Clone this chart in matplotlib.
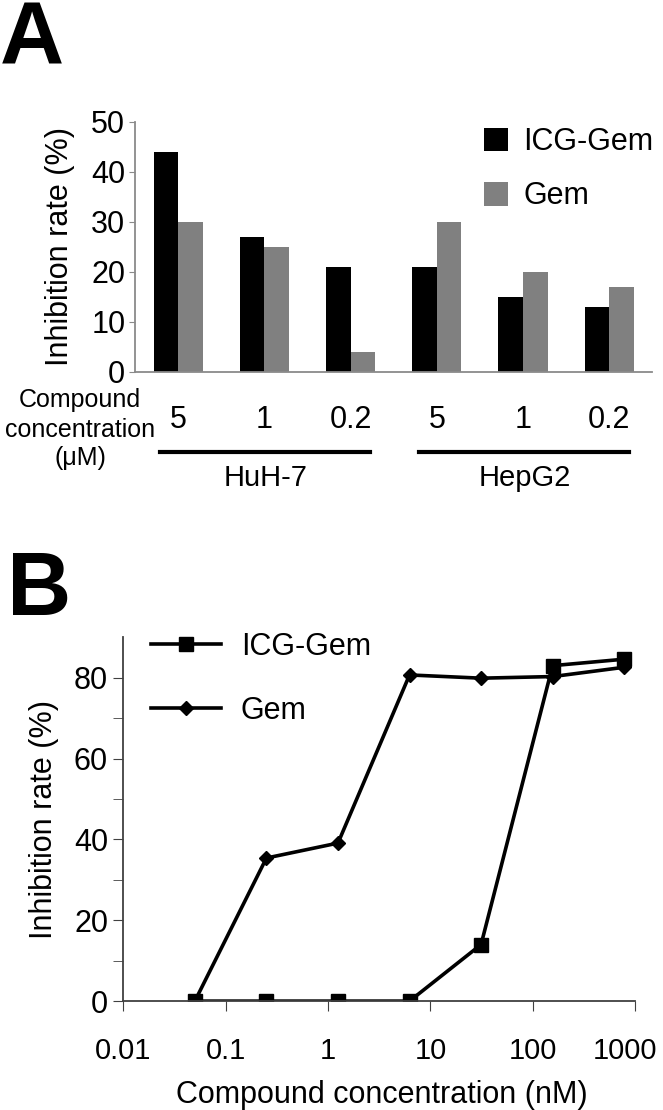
import matplotlib
matplotlib.use('Agg')
import matplotlib.pyplot as plt
import matplotlib.transforms as mtransforms

plt.rcParams['font.family'] = ['Liberation Sans', 'DejaVu Sans']

# panel A data
conc_labels = ['5', '1', '0.2', '5', '1', '0.2']
cell_lines = ['HuH-7', 'HepG2']
icg_gem_a = [44, 27, 21, 21, 15, 13]
gem_a = [30, 25, 4, 30, 20, 17]

# panel B data
conc_nM = [0.05, 0.25, 1.25, 6.25, 31.25, 156.25, 781.25]
icg_gem_b = [0, 0, 0, 0, 14.0, 83.0, 84.6]
gem_b = [0, 35.4, 39.1, 80.7, 79.9, 80.3, 82.6]

fig = plt.figure(figsize=(6.63, 11.1), dpi=100)

# ---------- A ----------
ax = fig.add_axes([0.2036, 0.6649, 0.7804, 0.2252])
x = list(range(len(conc_labels)))
w = 0.285
ax.bar([i - w/2 for i in x], icg_gem_a, w, color='black', label='ICG-Gem')
ax.bar([i + w/2 for i in x], gem_a, w, color='#808080', label='Gem')
ax.set_xlim(-0.5, 5.5)
ax.set_ylim(0, 50)
ax.set_yticks([0, 10, 20, 30, 40, 50])
ax.set_xticks(x)
ax.set_xticklabels(conc_labels)
for s in ['top', 'right']:
    ax.spines[s].set_visible(False)
for s in ['left', 'bottom']:
    ax.spines[s].set_color('#8a8a8a')
    ax.spines[s].set_linewidth(1.3)
ax.tick_params(axis='y', length=4, color='#8a8a8a', labelsize=22, pad=3)
ax.tick_params(axis='x', length=0, labelsize=22, pad=24)
ax.set_ylabel('Inhibition rate (%)', fontsize=22)
ax.yaxis.set_label_coords(-0.116, 0.5)
ax.legend(loc='upper right', bbox_to_anchor=(1.055, 1.09), frameon=False, fontsize=22,
          handlelength=0.8, handleheight=0.8, handletextpad=0.5, labelspacing=0.8)

trans = mtransforms.blended_transform_factory(ax.transData, ax.transAxes)
groups = [(0, 2), (3, 5)]
for (g0, g1), name in zip(groups, cell_lines):
    ax.plot([g0 - 0.21, g1 + 0.23], [-0.32, -0.32], color='black', lw=3,
            transform=trans, clip_on=False)
    ax.text((g0 + g1) / 2 + 0.02, -0.425, name, transform=trans, ha='center',
            va='center', fontsize=21)
fig.text(80/663, 1 - 400/1110, 'Compound', ha='center', va='center', fontsize=18)
fig.text(80/663, 1 - 430/1110, 'concentration', ha='center', va='center', fontsize=18)
fig.text(80/663, 1 - 458/1110, '(\u03bcM)', ha='center', va='center', fontsize=18)

fig.text(0.0, 1 - 65/1110, 'A', fontsize=64, fontweight='bold', ha='left', va='baseline')

# ---------- B ----------
bx = fig.add_axes([0.186, 0.0981, 0.772, 0.3277])
bx.plot(conc_nM, icg_gem_b, color='black', lw=2.6, marker='s', ms=10.5, label='ICG-Gem')
bx.plot(conc_nM, gem_b, color='black', lw=2.6, marker='D', ms=7.5, label='Gem')
bx.set_xscale('log')
bx.set_xlim(0.01, 1000)
bx.set_ylim(0, 90)
bx.set_xticks([0.01, 0.1, 1, 10, 100, 1000])
bx.set_xticklabels(['0.01', '0.1', '1', '10', '100', '1000'])
bx.xaxis.set_minor_locator(matplotlib.ticker.NullLocator())
bx.set_yticks([0, 20, 40, 60, 80])
bx.set_yticks([10, 30, 50, 70], minor=True)
for s in ['top', 'right']:
    bx.spines[s].set_visible(False)
for s in ['left', 'bottom']:
    bx.spines[s].set_color('#404040')
    bx.spines[s].set_linewidth(1.3)
bx.tick_params(axis='both', which='both', length=7, color='#404040', labelsize=22)
bx.tick_params(axis='x', labelsize=21)
bx.tick_params(axis='y', pad=4)
bx.tick_params(axis='x', pad=19)
# keep the last tick label inside the figure
last = bx.get_xticklabels()[-1]
last.set_transform(last.get_transform() + mtransforms.ScaledTranslation(-7/72, 0, fig.dpi_scale_trans))
bx.set_ylabel('Inhibition rate (%)', fontsize=22)
bx.yaxis.set_label_coords(-0.125, 0.5)
bx.set_xlabel('Compound concentration (nM)', fontsize=22)
bx.xaxis.set_label_coords(0.505, -0.217)
bx.legend(loc='upper left', bbox_to_anchor=(0.0, 1.09), frameon=False, fontsize=22,
          handlelength=2.3, handletextpad=0.65, labelspacing=1.1)

fig.text(7/663, 1 - 615/1110, 'B', fontsize=64, fontweight='bold', ha='left', va='baseline')

fig.savefig('out.png', dpi=100)
